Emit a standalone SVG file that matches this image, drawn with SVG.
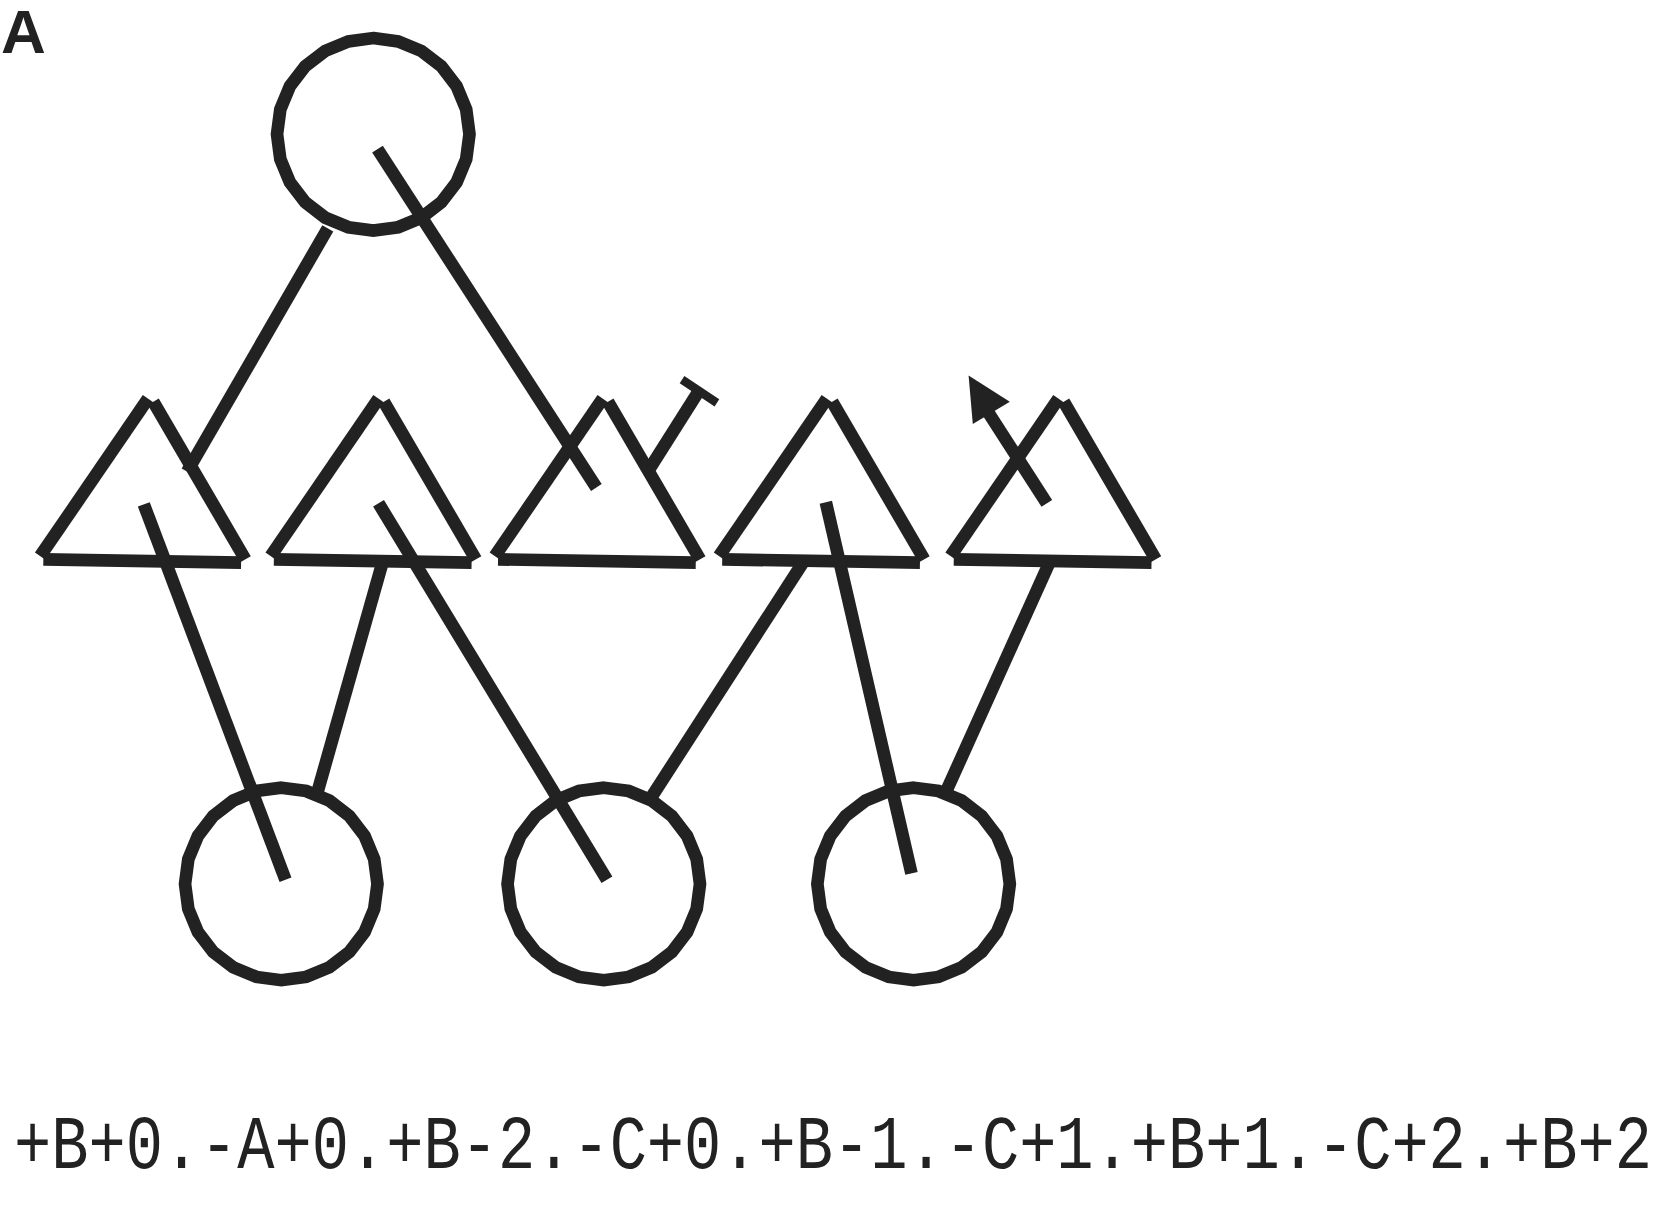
<svg xmlns="http://www.w3.org/2000/svg" xmlns:xlink="http://www.w3.org/1999/xlink" width="1658" height="1207" viewBox="0 0 1658 1207">
<style>
.s{fill:none;stroke:#222;stroke-width:12;stroke-linecap:butt;stroke-linejoin:miter}
.f{fill:#222;stroke:none}
.lbl{font-family:"Liberation Sans",Arial,sans-serif;font-weight:bold;font-size:62px;fill:#222}
.seq{font-family:"Liberation Mono","Courier New",monospace;font-size:61px;fill:#222}
</style>
<defs>
<polygon id="circ" class="s" points="0,-91 23.55,-87.9 45.5,-78.8 64.35,-64.35 78.8,-45.5 87.9,-23.55 91,0 87.9,23.55 78.8,45.5 64.35,64.35 45.5,78.8 23.55,87.9 0,91 -23.55,87.9 -45.5,78.8 -64.35,64.35 -78.8,45.5 -87.9,23.55 -91,0 -87.9,-23.55 -78.8,-45.5 -64.35,-64.35 -45.5,-78.8 -23.55,-87.9"/>
<g id="tri" class="s">
<line x1="0" y1="526" x2="102" y2="377"/>
<line x1="107" y1="380" x2="194" y2="529"/>
<line x1="3" y1="529" x2="190" y2="532"/>
</g>
</defs>
<rect width="1658" height="1207" fill="#fff"/>
<text class="lbl" x="1" y="53">A</text>
<g transform="scale(1.0574)">
<g id="node-top"><use xlink:href="#circ" href="#circ" x="353" y="127"/></g>
<g id="node-t1"><use xlink:href="#tri" href="#tri" x="38" y="0"/></g>
<g id="node-t2"><use xlink:href="#tri" href="#tri" x="256" y="0"/></g>
<g id="node-t3"><use xlink:href="#tri" href="#tri" x="468" y="0"/></g>
<g id="node-t4"><use xlink:href="#tri" href="#tri" x="680" y="0"/></g>
<g id="node-t5"><use xlink:href="#tri" href="#tri" x="899" y="0"/></g>
<g id="node-b1"><use xlink:href="#circ" href="#circ" x="266" y="836"/></g>
<g id="node-b2"><use xlink:href="#circ" href="#circ" x="571" y="836"/></g>
<g id="node-b3"><use xlink:href="#circ" href="#circ" x="864" y="836"/></g>
<g id="connectors" class="s">
<line x1="310" y1="216" x2="177" y2="446"/>
<line x1="357" y1="141" x2="564" y2="461"/>
<line x1="612" y1="447" x2="662" y2="368"/>
<line x1="645" y1="359" x2="678" y2="381" style="stroke-width:8"/>
<line x1="990" y1="476" x2="932" y2="386"/>
<polygon class="f" points="916,355 920,401 955,380"/>
<line x1="136" y1="477" x2="270" y2="832"/>
<line x1="362" y1="531" x2="300" y2="750"/>
<line x1="358" y1="476" x2="574" y2="832"/>
<line x1="760" y1="531" x2="614" y2="757"/>
<line x1="781" y1="475" x2="862" y2="826"/>
<line x1="992" y1="533" x2="895" y2="748"/>
</g>
</g>
<text class="seq" transform="translate(0,1168) scale(1,1.25)" x="14" y="0" textLength="1638" lengthAdjust="spacingAndGlyphs">+B+0.-A+0.+B-2.-C+0.+B-1.-C+1.+B+1.-C+2.+B+2</text>
</svg>
